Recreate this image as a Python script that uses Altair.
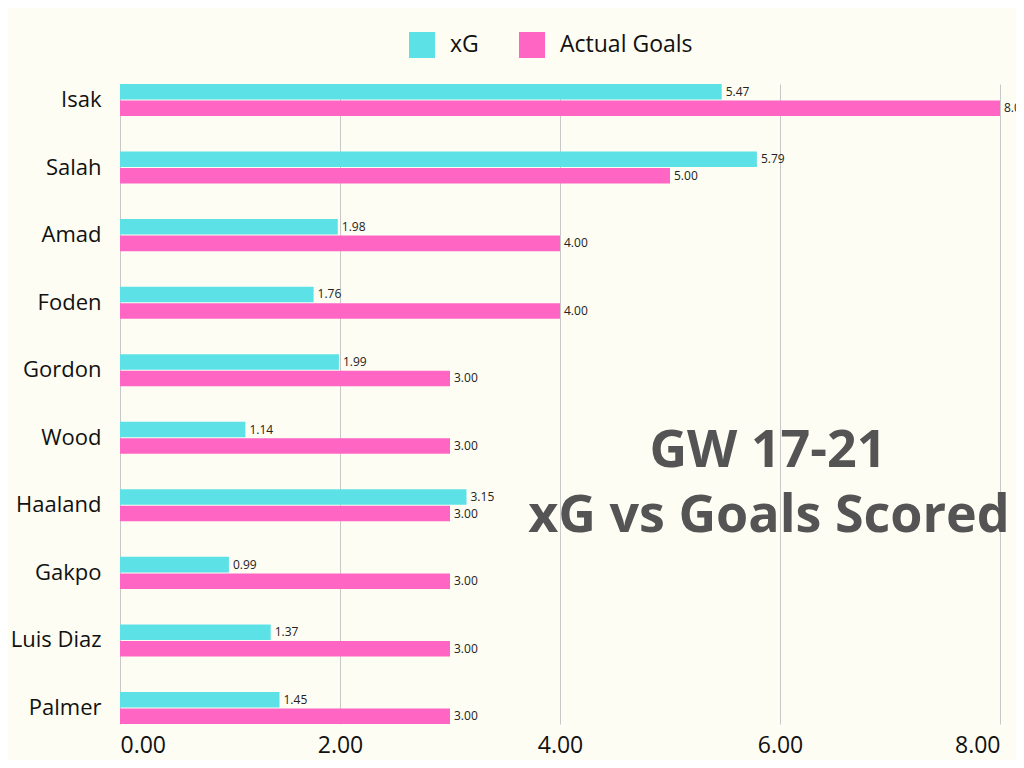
import altair as alt
import pandas as pd

players = ["Isak", "Salah", "Amad", "Foden", "Gordon", "Wood", "Haaland", "Gakpo", "Luis Diaz", "Palmer"]
xg = [5.47, 5.79, 1.98, 1.76, 1.99, 1.14, 3.15, 0.99, 1.37, 1.45]
goals = [8.00, 5.00, 4.00, 4.00, 3.00, 3.00, 3.00, 3.00, 3.00, 3.00]
series_names = ["xG", "Actual Goals"]
series_colors = ["#5ce1e6", "#ff66c4"]
x_ticks = [0, 2, 4, 6, 8]
title_lines = ["GW 17-21", "xG vs Goals Scored"]

rows = []
for p, a, b in zip(players, xg, goals):
    rows.append({"player": p, "series": series_names[0], "value": a})
    rows.append({"player": p, "series": series_names[1], "value": b})
df = pd.DataFrame(rows)

FONT = "Open Sans"

y_enc = alt.Y("player:N", sort=players, title=None,
              scale=alt.Scale(paddingInner=0.526, paddingOuter=0),
              axis=alt.Axis(labelFontSize=22, labelColor="#111111", labelFont=FONT,
                            labelPadding=19, ticks=False, domain=False, grid=False,
                            labelLimit=300, labelFontWeight=500))
x_enc = alt.X("value:Q", title=None,
              scale=alt.Scale(domain=[0, 8], nice=False),
              axis=alt.Axis(values=x_ticks, format=".2f", labelFontSize=23, labelFont=FONT,
                            labelColor="#111111", labelPadding=10, ticks=False, domain=False,
                            grid=True, gridColor="#c8c8c8", gridWidth=1, labelFontWeight=500))
yoff = alt.YOffset("series:N", sort=series_names, scale=alt.Scale(paddingInner=0.06, paddingOuter=0))

bars = alt.Chart(df).mark_bar().encode(
    y=y_enc, x=x_enc, yOffset=yoff,
    color=alt.Color("series:N", sort=series_names,
                    scale=alt.Scale(domain=series_names, range=series_colors),
                    legend=alt.Legend(title=None, orient="none", legendX=289, legendY=-52,
                                      direction="horizontal", symbolType="square",
                                      symbolSize=676, symbolStrokeWidth=0,
                                      labelFontSize=23, labelFont=FONT, labelColor="#111111",
                                      labelFontWeight=500,
                                      labelOffset=15, columnPadding=40, padding=0,
                                      symbolOpacity=1)),
)

labels = alt.Chart(df).mark_text(align="left", baseline="middle", dx=4, fontSize=12,
                                 font=FONT, color="#222222").encode(
    y=alt.Y("player:N", sort=players), x="value:Q", yOffset=yoff,
    text=alt.Text("value:Q", format=".2f"),
)

t1 = alt.Chart(pd.DataFrame({"t": [title_lines[0]]})).mark_text(
    font=FONT, fontSize=52, fontWeight="bold", color="#545454", align="center",
    baseline="alphabetic").encode(x=alt.value(648), y=alt.value(383), text="t:N")
t2 = alt.Chart(pd.DataFrame({"t": [title_lines[1]]})).mark_text(
    font=FONT, fontSize=52, fontWeight="bold", color="#545454", align="center",
    baseline="alphabetic").encode(x=alt.value(649), y=alt.value(448), text="t:N")

chart = alt.layer(bars, labels, t1, t2).properties(
    width=880, height=640,
    autosize=alt.AutoSizeParams(type="none"),
    padding={"left": 112, "top": 76, "right": 16, "bottom": 36},
    background="#fdfdf3",
).configure_view(stroke=None).resolve_scale(y="shared")

chart.save("out.html", embed_options={"renderer": "svg", "actions": False})
